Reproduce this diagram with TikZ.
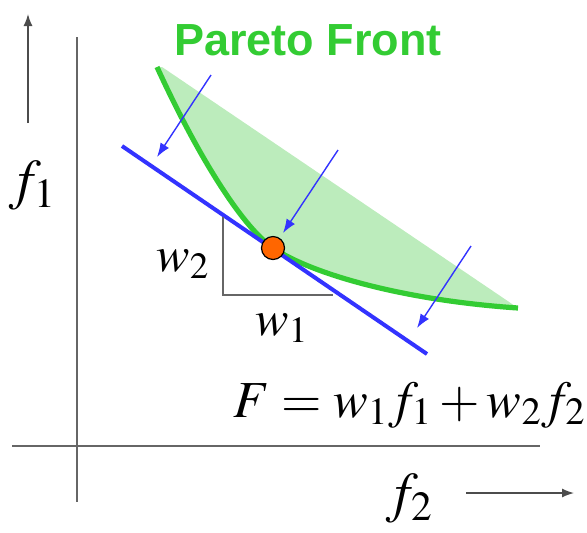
\documentclass[tikz,border=0pt]{standalone}
\usepackage{mathptmx}
\usepackage[no-math]{fontspec}
\newfontfamily\arialfont{Liberation Sans}
\usepackage{tikz}
\usetikzlibrary{arrows.meta,positioning,calc}
\definecolor{frontgreen}{RGB}{51,204,51}
\definecolor{shadegreen}{RGB}{188,236,188}
\definecolor{lineblue}{RGB}{51,51,255}
\definecolor{dotorange}{RGB}{255,102,0}

\begin{document}
\begin{tikzpicture}[x=0.5pt,y=-0.5pt,>=Latex]
  \tikzstyle{axis}=[draw=black!60,line width=1pt]
  \tikzstyle{dir}=[->,draw=black!70,line width=0.7pt,>={Latex[length=6pt,width=4.5pt]}]
  \tikzstyle{push}=[->,draw=lineblue,line width=0.7pt,>={Latex[length=7pt,width=5pt]}]
  \tikzstyle{lbl}=[inner sep=0pt,font=\fontsize{25}{30}\selectfont]
  \useasboundingbox (0,0) rectangle (587,532);
  % axes
  \coordinate (ytop) at (77,37);
  \coordinate (ybot) at (77,502);
  \coordinate (xleft) at (12,446);
  \coordinate (xright) at (540,446);
  \draw[axis] (ytop) -- (ybot);
  \draw[axis] (xleft) -- (xright);
  % direction arrows and axis labels
  \coordinate (upfrom) at (28,123);
  \coordinate (upto) at (28,14);
  \coordinate (rtfrom) at (466,493);
  \coordinate (rtto) at (574,493);
  \draw[dir] (upfrom) -- (upto);
  \draw[dir] (rtfrom) -- (rtto);
  \node[lbl,font=\fontsize{28}{32}\selectfont] (fone) at (33,186) {$f_1$};
  \node[lbl,font=\fontsize{28}{32}\selectfont] (ftwo) at (410,499) {$f_2$};
  % feasible region and Pareto front
  \coordinate (ptop) at (157,67);
  \coordinate (popt) at (273,248);
  \coordinate (pend) at (518,308);
  \fill[shadegreen] (ptop) .. controls (195,150) and (240,225) .. (popt)
    .. controls (310,273) and (400,300) .. (pend) -- (162,67) -- cycle;
  \draw[frontgreen,line width=2.6pt] (ptop) .. controls (195,150) and (240,225) .. (popt)
    .. controls (310,273) and (400,300) .. (pend);
  \node[font=\arialfont\bfseries\fontsize{22.5}{26}\selectfont,text=frontgreen] (front) at (308,40) {Pareto Front};
  % supporting line
  \coordinate (lstart) at (122,146);
  \coordinate (lend) at (427,354);
  \draw[lineblue,line width=2pt] (lstart) -- (lend);
  % slope triangle
  \coordinate (tri) at (223,217);
  \coordinate (tricorner) at (223,295);
  \coordinate (triend) at (333,295);
  \draw[draw=black!60,line width=0.8pt] (tri) -- (tricorner) -- (triend);
  \node[lbl] (wtwo) at (183,264) {$w_2$};
  \node[lbl] (wone) at (282,328) {$w_1$};
  % moving the line
  \coordinate (aone) at (211,75);   \coordinate (bone) at (157,157);
  \coordinate (atwo) at (338,150);  \coordinate (btwo) at (283,233);
  \coordinate (athree) at (471,246); \coordinate (bthree) at (417,328);
  \draw[push] (aone) -- (bone);
  \draw[push] (atwo) -- (btwo);
  \draw[push] (athree) -- (bthree);
  % optimum
  \node[circle,draw=black,line width=0.6pt,fill=dotorange,minimum size=11.5pt,inner sep=0pt] (opt) at (popt) {};
  \node[lbl,anchor=east,font=\fontsize{26}{30}\selectfont] (sum) at (586,405) {$F=w_1f_1+w_2f_2$};
\end{tikzpicture}
\end{document}
